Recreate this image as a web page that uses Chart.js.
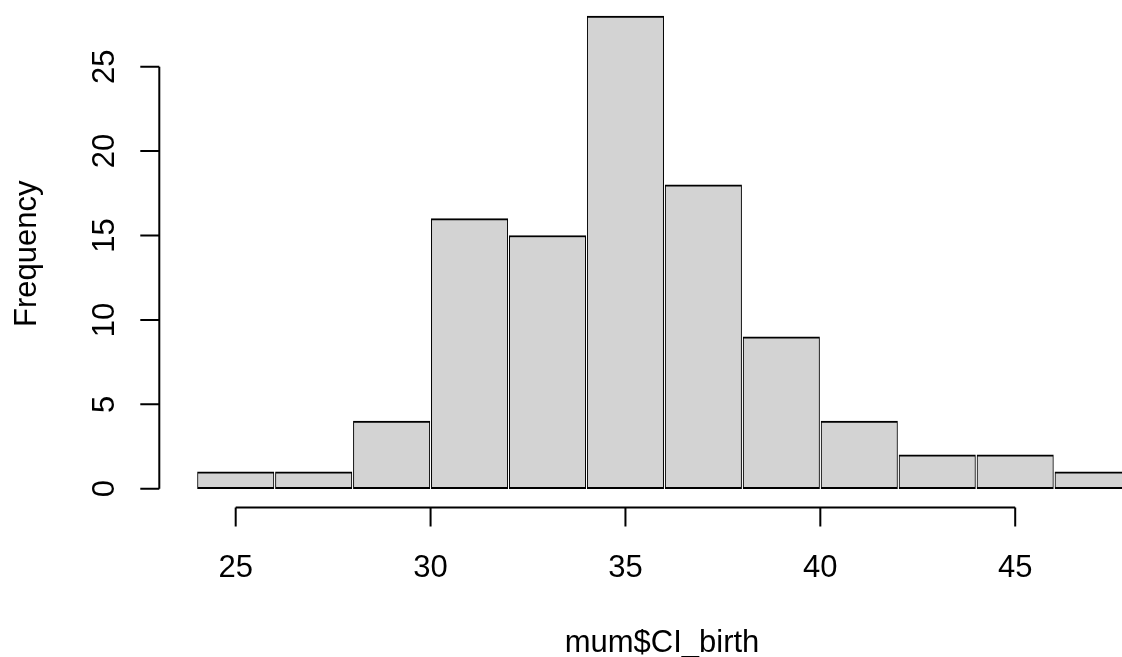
<!DOCTYPE html>
<html>
<head>
<meta charset="utf-8">
<script src="https://cdn.jsdelivr.net/npm/chart.js@4.4.1/dist/chart.umd.min.js"></script>
<style>
  html, body { margin: 0; padding: 0; background: #fff; }
  #histChart { display: block; }
</style>
</head>
<body>
<canvas id="histChart" width="1122" height="657"></canvas>
<script>
// histogram data: bin edges and counts
const binEdges = [24, 26, 28, 30, 32, 34, 36, 38, 40, 42, 44, 46, 48];
const counts = [1, 1, 4, 16, 15, 28, 18, 9, 4, 2, 2, 1];
const xTicks = [25, 30, 35, 40, 45];
const yTicks = [0, 5, 10, 15, 20, 25];
const xTitle = 'mum$CI_birth';
const yTitle = 'Frequency';

const FONT = '31px "Liberation Sans", Arial, sans-serif';

// bars are placed at the middle of each bin
const points = counts.map((c, i) => ({ x: (binEdges[i] + binEdges[i + 1]) / 2, y: c }));

// R style axes: lines only span the tick range, drawn off the plot box
const rAxes = {
  id: 'rAxes',
  afterDraw(chart) {
    const { ctx, chartArea, scales } = chart;
    const xs = scales.x, ys = scales.y;
    ctx.save();
    ctx.strokeStyle = '#000';
    ctx.fillStyle = '#000';
    ctx.lineWidth = 2;
    ctx.font = FONT;

    // x axis
    const ay = chartArea.bottom;
    ctx.beginPath();
    ctx.moveTo(xs.getPixelForValue(xTicks[0]), ay);
    ctx.lineTo(xs.getPixelForValue(xTicks[xTicks.length - 1]), ay);
    xTicks.forEach(t => {
      const px = xs.getPixelForValue(t);
      ctx.moveTo(px, ay);
      ctx.lineTo(px, ay + 19);
    });
    ctx.stroke();
    ctx.textAlign = 'center';
    ctx.textBaseline = 'alphabetic';
    xTicks.forEach(t => ctx.fillText(String(t), xs.getPixelForValue(t), 577));

    // y axis
    const ax = chartArea.left;
    ctx.beginPath();
    ctx.moveTo(ax, ys.getPixelForValue(yTicks[0]));
    ctx.lineTo(ax, ys.getPixelForValue(yTicks[yTicks.length - 1]));
    yTicks.forEach(t => {
      const py = ys.getPixelForValue(t);
      ctx.moveTo(ax, py);
      ctx.lineTo(ax - 19, py);
    });
    ctx.stroke();
    yTicks.forEach(t => {
      ctx.save();
      ctx.translate(114, ys.getPixelForValue(t));
      ctx.rotate(-Math.PI / 2);
      ctx.fillText(String(t), 0, 0);
      ctx.restore();
    });

    // titles
    ctx.fillText(xTitle, 662, 652);
    ctx.save();
    ctx.translate(36, (chartArea.top + chartArea.bottom) / 2);
    ctx.rotate(-Math.PI / 2);
    ctx.fillText(yTitle, 0, 0);
    ctx.restore();
    ctx.restore();
  }
};

new Chart(document.getElementById('histChart'), {
  type: 'bar',
  data: {
    datasets: [{
      label: 'Frequency',
      data: points,
      backgroundColor: '#d3d3d3',
      borderColor: '#000',
      borderWidth: { top: 2, bottom: 2, left: 1, right: 1 },
      borderSkipped: false,
      barPercentage: 1,
      categoryPercentage: 1
    }]
  },
  options: {
    responsive: false,
    animation: false,
    layout: { padding: { left: 159.3, right: 0, top: 0, bottom: 149.4 } },
    plugins: { legend: { display: false }, tooltip: { enabled: false } },
    scales: {
      x: { type: 'linear', min: 23.04, max: 47.74, offset: false, display: false },
      y: { type: 'linear', min: -1.12, max: 28.95, display: false }
    }
  },
  plugins: [rAxes]
});
</script>
</body>
</html>
